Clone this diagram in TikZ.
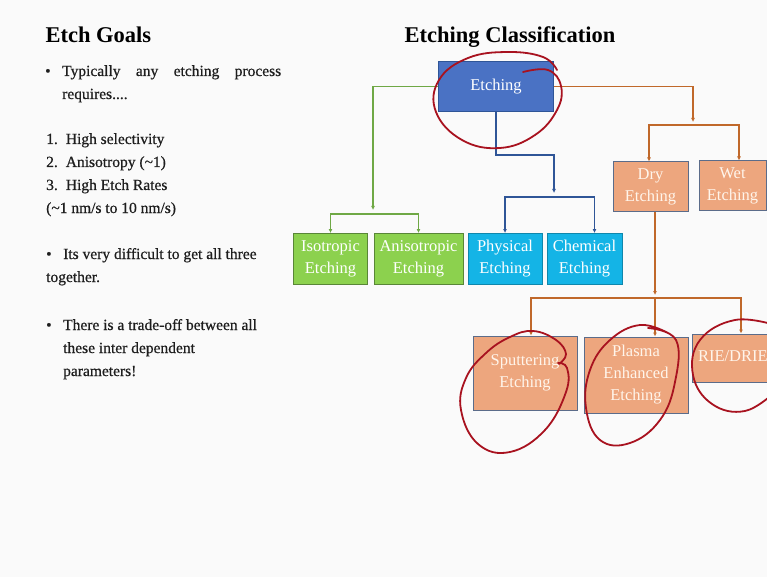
\documentclass[tikz,border=0pt]{standalone}
\usepackage{fontspec}
\setmainfont{Liberation Serif}
\newfontfamily\slidefont{Liberation Serif}[FakeBold=0.6]
\usepackage{tikz}
\usetikzlibrary{arrows.meta,positioning}

\definecolor{etchblue}{HTML}{4A72C4}
\definecolor{etchgreen}{HTML}{8CD14E}
\definecolor{etchcyan}{HTML}{14B4E6}
\definecolor{etchsalmon}{HTML}{EDA67E}
\definecolor{greenline}{HTML}{6FA845}
\definecolor{blueline}{HTML}{2F5597}
\definecolor{orangeline}{HTML}{C0682A}
\definecolor{inkred}{HTML}{A8121F}
\definecolor{slidetext}{HTML}{1E1E1E}

\begin{document}
\begin{tikzpicture}[x=1pt,y=-1pt,>={Latex[length=4pt,width=4pt]},
  box/.style={draw,line width=1pt,align=center,text=white,font=\fontsize{16.5}{22}\selectfont,
    inner sep=0pt,text depth=4pt},
  bluebox/.style={box,fill=etchblue,draw=blueline},
  greenbox/.style={box,fill=etchgreen,draw=greenline!80!black},
  cyanbox/.style={box,fill=etchcyan,draw=etchcyan!75!black},
  salmonbox/.style={box,fill=etchsalmon,draw=blueline!45!gray,text=white!92!orange},
  gline/.style={draw=greenline,line width=1.2pt},
  bline/.style={draw=blueline,line width=1.2pt},
  oline/.style={draw=orangeline,line width=1.2pt},
  ink/.style={draw=inkred,line width=1.8pt,line cap=round},
  heading/.style={anchor=base west,font=\fontsize{22.5}{26}\selectfont\bfseries,text=black},
  body/.style={anchor=base west,font=\slidefont\fontsize{15.5}{18}\selectfont,text=slidetext,inner sep=0pt}]
  \fill[black!2] (0,0) rectangle (767,577);
  \clip (0,0) rectangle (767,577);

  % left column
  \node[heading] (goals) at (42,43) {Etch Goals};
  \node[body] (b1) at (45,76) {\textbullet};
  \node[body] (t1) at (62,76) {\makebox[219pt][s]{Typically any etching process}};
  \node[body] (t2) at (62,99) {requires....};
  \node[body] (l1) at (46,144) {1.\hspace{8pt}High selectivity};
  \node[body] (l2) at (46,167) {2.\hspace{8pt}Anisotropy (\textasciitilde1)};
  \node[body] (l3) at (46,190) {3.\hspace{8pt}High Etch Rates};
  \node[body] (l4) at (46,213) {(\textasciitilde1 nm/s to 10 nm/s)};
  \node[body] (b2) at (46,259) {\textbullet};
  \node[body] (t3) at (63,259) {Its very difficult to get all three};
  \node[body] (t4) at (46,282) {together.};
  \node[body] (b3) at (46,330) {\textbullet};
  \node[body] (t5) at (63,330) {There is a trade-off between all};
  \node[body] (t6) at (63,353) {these inter dependent};
  \node[body] (t7) at (63,376) {parameters!};

  % tree
  \node[heading,anchor=base] (classif) at (510,43) {Etching Classification};
  \node[bluebox,minimum width=115pt,minimum height=50pt] (etch) at (496,86.5) {Etching};
  \node[greenbox,minimum width=74pt,minimum height=51pt] (iso) at (330.5,259) {Isotropic\\Etching};
  \node[greenbox,minimum width=89pt,minimum height=51pt] (aniso) at (418.5,259) {Anisotropic\\Etching};
  \node[cyanbox,minimum width=74pt,minimum height=51pt] (phys) at (505,259) {Physical\\Etching};
  \node[cyanbox,minimum width=75pt,minimum height=51pt] (chem) at (584.5,259) {Chemical\\Etching};
  \node[salmonbox,minimum width=75pt,minimum height=50pt] (dry) at (650.5,187) {Dry\\Etching};
  \node[salmonbox,minimum width=67pt,minimum height=50pt] (wet) at (732.5,186) {Wet\\Etching};
  \node[salmonbox,minimum width=104pt,minimum height=74pt] (sput) at (525,373) {Sputtering\\Etching};
  \node[salmonbox,minimum width=104pt,minimum height=76pt] (plasma) at (636,375) {Plasma\\Enhanced\\Etching};
  \node[salmonbox,minimum width=100pt,minimum height=48pt,text width=88pt,align=left] (rie) at (742,358) {RIE/DRIE};

  \coordinate (gdrop) at (373,210);
  \coordinate (gbar) at (373,214);
  \coordinate (bdrop) at (554,193);
  \coordinate (bbar) at (554,197);
  \coordinate (odrop) at (693,122);
  \coordinate (obar) at (693,125);
  \coordinate (pdrop) at (655,295);
  \coordinate (pbar) at (655,298);

  \draw[gline,->] (etch.west) -| (gdrop);
  \draw[gline,->] (gbar) -| (iso.north);
  \draw[gline,->] (gbar) -| (aniso.north);
  \draw[bline,->] (etch.south) -- ++(0,43) -| (bdrop);
  \draw[bline,->] (bbar) -| (phys.north);
  \draw[bline,->] (bbar) -| ([xshift=10pt]chem.north);
  \draw[oline,->] (etch.east) -| (odrop);
  \draw[oline,->] (obar) -| ([xshift=-1.5pt]dry.north);
  \draw[oline,->] (obar) -| ([xshift=6.5pt]wet.north);
  \draw[oline,->] ([xshift=4.5pt]dry.south) -- (pdrop);
  \draw[oline,->] (pbar) -| ([xshift=6pt]sput.north);
  \draw[oline,->] (pbar) -- ([xshift=19pt]plasma.north);
  \draw[oline,->] (pbar) -| ([xshift=-1pt]rie.north);

  % hand-drawn marks
  \draw[ink] plot[smooth,tension=0.7] coordinates {(523,72) (548,70) (561,86) (557,110)
    (535,135) (500,148) (462,140) (436,112) (439,80) (468,58) (508,52) (543,57) (557,70)};
  \draw[ink] plot[smooth,tension=0.7] coordinates {(558,363) (567,368) (566,392) (545,430)
    (510,452) (478,444) (461,410) (466,378) (486,353) (510,337) (533,331) (556,340) (566,354) (559,364)};
  \draw[ink] plot[smooth,tension=0.7] coordinates {(648,328) (676,340) (675,382) (660,420)
    (630,443) (600,440) (586,408) (590,370) (610,340) (640,325) (668,333)};
  \draw[ink] plot[smooth,tension=0.7] coordinates {(775,325) (735,320) (700,340) (693,375)
    (712,404) (745,411) (775,392)};
\end{tikzpicture}
\end{document}
